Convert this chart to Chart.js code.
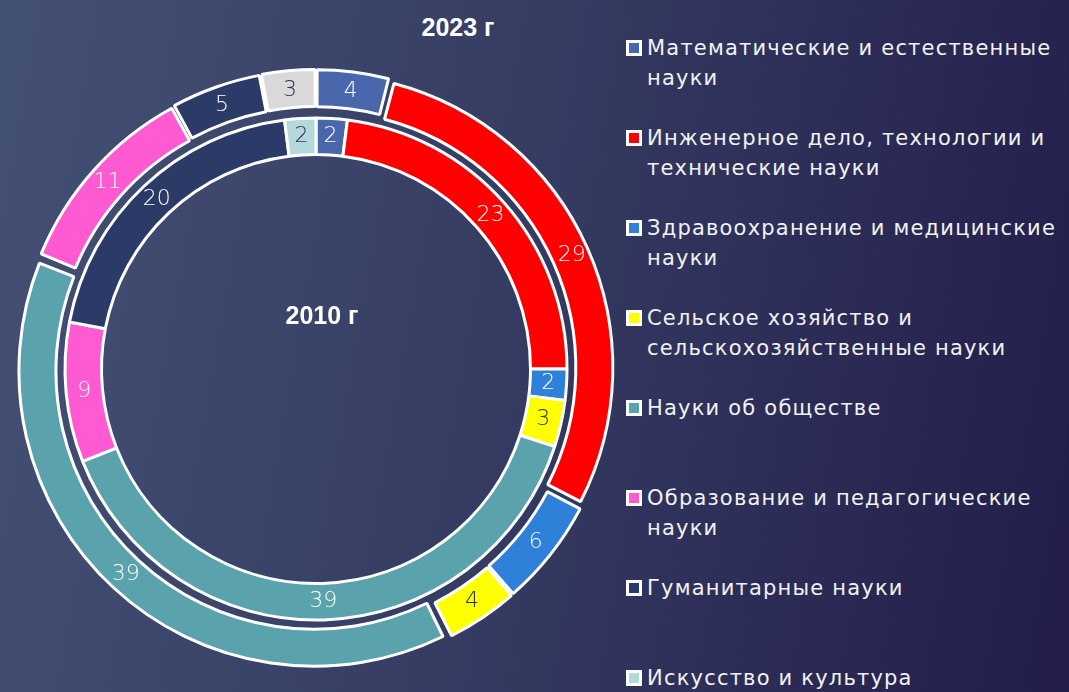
<!DOCTYPE html>
<html><head><meta charset="utf-8">
<script src="https://cdn.jsdelivr.net/npm/chart.js@4.4.1/dist/chart.umd.min.js"></script>
<style>
html,body{margin:0;padding:0;width:1069px;height:692px;overflow:hidden;}
body{background:linear-gradient(100deg,#435174 0%,#363d63 45%,#221d4a 100%);position:relative;font-family:"DejaVu Sans",sans-serif;}
#wrap{position:absolute;left:14px;top:67px;width:604px;height:604px;}
.title{position:absolute;color:#fff;font:bold 25px "Liberation Sans",Arial,sans-serif;transform:translate(-50%,-50%);white-space:nowrap}
#legend{position:absolute;left:626px;top:0;width:443px;height:692px}
.item{position:absolute;left:0;white-space:nowrap;color:#f2f2f4;font-size:21px;line-height:30px;letter-spacing:1.2px}
.mk{position:absolute;left:0;top:7px;width:10px;height:10px;border:3px solid #fff;}
.txt{position:absolute;left:21px;top:0}
</style></head><body>
<div id="wrap"><canvas id="c"></canvas></div>
<div class="title" id="t2023" style="left:458px;top:27px"></div>
<div class="title" id="t2010" style="left:322px;top:315px"></div>
<div id="legend"></div>
<script>
const categories = [
  ["Математические и естественные", "науки"],
  ["Инженерное дело, технологии и", "технические науки"],
  ["Здравоохранение и медицинские", "науки"],
  ["Сельское хозяйство и", "сельскохозяйственные науки"],
  ["Науки об обществе"],
  ["Образование и педагогические", "науки"],
  ["Гуманитарные науки"],
  ["Искусство и культура"]
];
const yearLabels = ["2023 г", "2010 г"];
const values2023 = [4, 29, 6, 4, 39, 11, 5, 3];
const values2010 = [2, 23, 2, 3, 39, 9, 20, 2];
const colors2023 = ["#4a66ac", "#ff0000", "#2e80d8", "#ffff00", "#5aa3ad", "#ff5ad2", "#2b3a66", "#d9d9d9"];
const colors2010 = ["#4a66ac", "#ff0000", "#2e80d8", "#ffff00", "#5aa3ad", "#ff5ad2", "#2b3a66", "#b5d8dc"];

document.getElementById('t2023').textContent = yearLabels[0];
document.getElementById('t2010').textContent = yearLabels[1];

// legend
const lg = document.getElementById('legend');
categories.forEach((lines, i) => {
  const it = document.createElement('div');
  it.className = 'item';
  it.style.top = (33 + i * 90) + 'px';
  const mk = document.createElement('div');
  mk.className = 'mk';
  mk.style.background = colors2010[i];
  const tx = document.createElement('div');
  tx.className = 'txt';
  tx.innerHTML = lines.map(s => s.replace(/&/g,'&amp;').replace(/</g,'&lt;')).join('<br>');
  it.appendChild(mk); it.appendChild(tx);
  lg.appendChild(it);
});

function isLight(hex) {
  const r = parseInt(hex.substr(1,2),16), g = parseInt(hex.substr(3,2),16), b = parseInt(hex.substr(5,2),16);
  return (0.299*r + 0.587*g + 0.114*b) > 170;
}

const valueLabels = {
  id: 'valueLabels',
  afterDatasetsDraw(chart) {
    const ctx = chart.ctx;
    chart.data.datasets.forEach((ds, di) => {
      const meta = chart.getDatasetMeta(di);
      meta.data.forEach((arc, i) => {
        const pr = arc.getProps(['x','y','startAngle','endAngle','innerRadius','outerRadius']);
        const o = arc.options;
        const mid = (pr.startAngle + pr.endAngle) / 2;
        const r = (pr.innerRadius + pr.outerRadius) / 2 + (o.spacing || 0) / 2 + (o.offset || 0) / 4 * 1.5;
        const px = pr.x + Math.cos(mid) * r;
        const py = pr.y + Math.sin(mid) * r;
        ctx.save();
        ctx.font = '200 22px "DejaVu Sans", sans-serif';
        ctx.fillStyle = isLight(ds.backgroundColor[i]) ? '#2d3457' : '#ffffff';
        ctx.textAlign = 'center';
        ctx.textBaseline = 'middle';
        ctx.fillText(String(ds.data[i]), px, py);
        ctx.restore();
      });
    });
  }
};

new Chart(document.getElementById('c'), {
  type: 'doughnut',
  data: {
    labels: categories.map(l => l.join(' ')),
    datasets: [
      {
        label: yearLabels[0],
        data: values2023,
        backgroundColor: colors2023,
        borderColor: '#ffffff',
        borderWidth: 3,
        offset: 12,
        hoverOffset: 0,
        spacing: 6,
        radius: 291,
        cutout: '74.57%',
        weight: 1
      },
      {
        label: yearLabels[1],
        data: values2010,
        backgroundColor: colors2010,
        borderColor: '#ffffff',
        borderWidth: 3,
        offset: 0,
        hoverOffset: 0,
        spacing: 0,
        radius: 287.5,
        cutout: '74.61%',
        weight: 1
      }
    ]
  },
  options: {
    responsive: true,
    maintainAspectRatio: false,
    animation: false,
    events: [],
    layout: { padding: 0 },
    plugins: { legend: { display: false }, tooltip: { enabled: false } }
  },
  plugins: [valueLabels]
});
</script>
</body></html>
